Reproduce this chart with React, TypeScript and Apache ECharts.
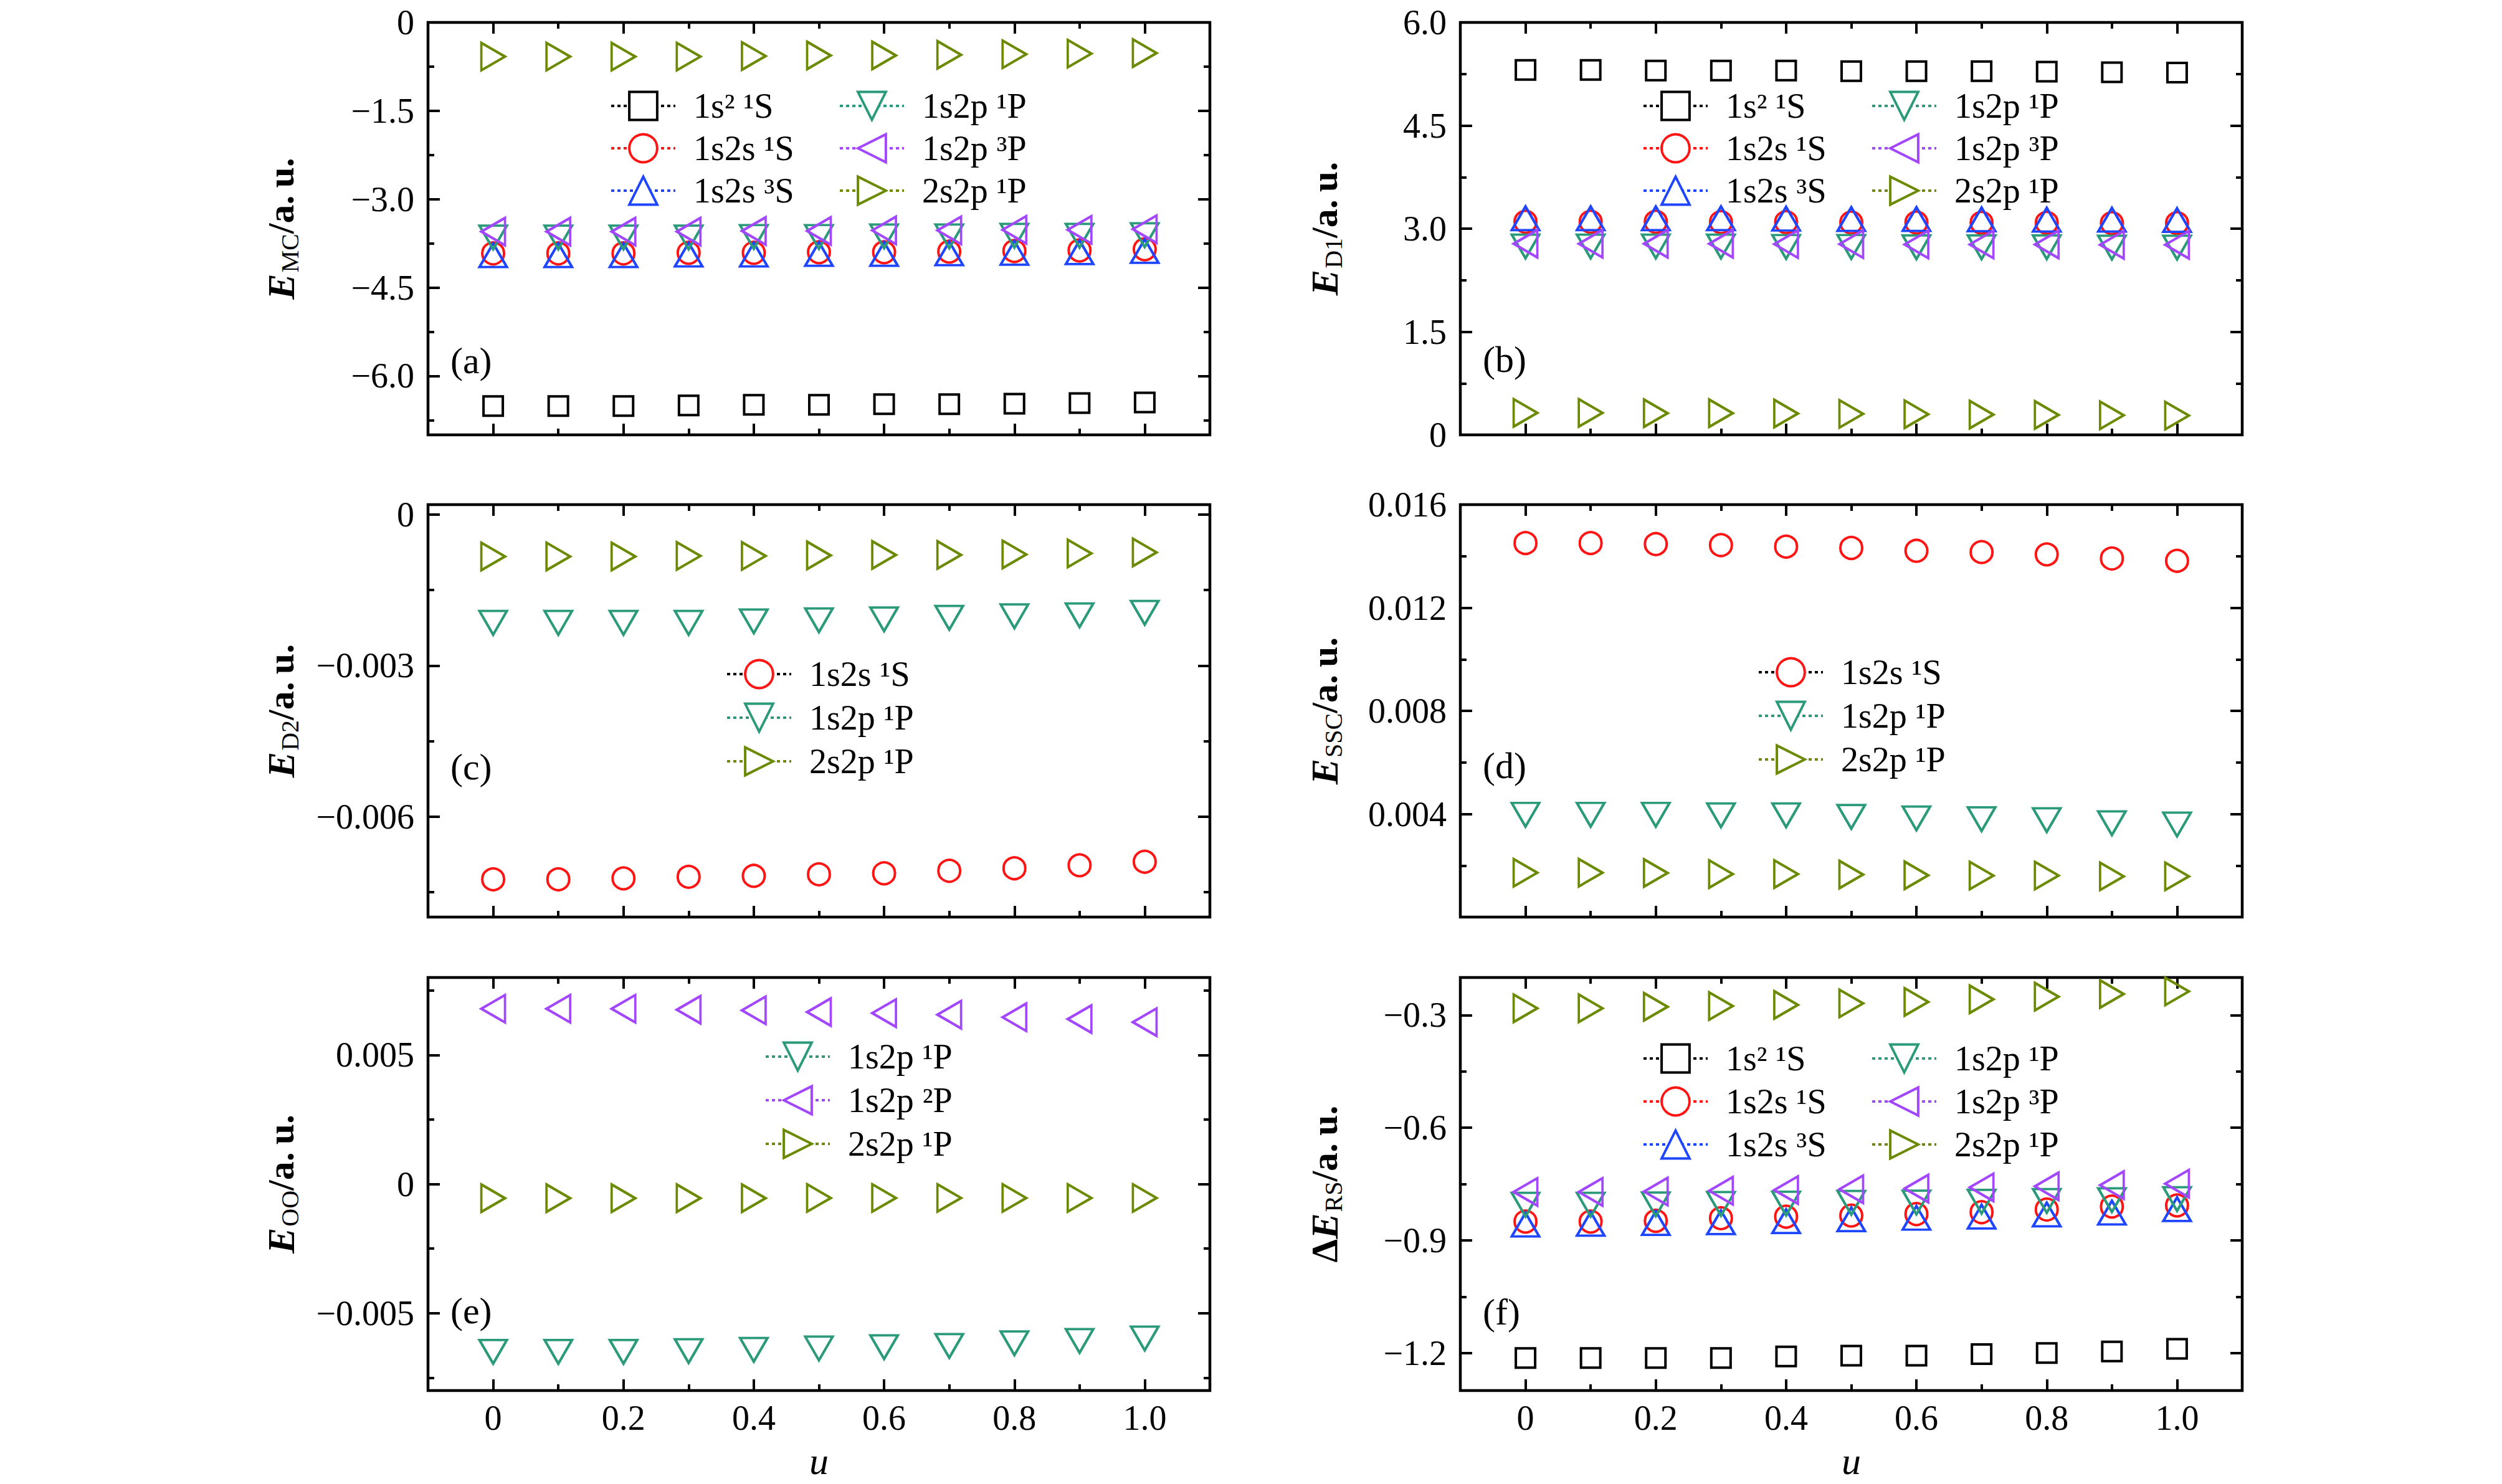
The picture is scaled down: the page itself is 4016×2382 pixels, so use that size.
import React, { useEffect, useRef } from 'react';
import * as echarts from 'echarts';

const FONT = '"Liberation Serif", "Times New Roman", serif';

// u values (x axis)
const U = [0, 0.1, 0.2, 0.3, 0.4, 0.5, 0.6, 0.7, 0.8, 0.9, 1.0];
const X_MAJOR = [0, 0.2, 0.4, 0.6, 0.8, 1.0];
const X_MAJOR_LABELS = ['0', '0.2', '0.4', '0.6', '0.8', '1.0'];
const X_MINOR = [0.1, 0.3, 0.5, 0.7, 0.9];

// state names
const G = '1s² ¹S';
const S1 = '1s2s ¹S';
const S3 = '1s2s ³S';
const P1 = '1s2p ¹P';
const P3 = '1s2p ³P';
const P2 = '1s2p ²P';
const DP = '2s2p ¹P';

// (a) E_MC
const mc_1s2_1S = [-6.51, -6.51, -6.51, -6.5, -6.49, -6.49, -6.48, -6.48, -6.47, -6.46, -6.45];
const mc_1s2s_1S = [-3.92, -3.92, -3.92, -3.91, -3.91, -3.9, -3.9, -3.89, -3.88, -3.87, -3.85];
const mc_1s2s_3S = [-3.95, -3.95, -3.95, -3.94, -3.94, -3.93, -3.93, -3.92, -3.91, -3.9, -3.88];
const mc_1s2p_1P = [-3.65, -3.65, -3.65, -3.65, -3.64, -3.64, -3.63, -3.63, -3.62, -3.62, -3.61];
const mc_1s2p_3P = [-3.55, -3.55, -3.55, -3.55, -3.54, -3.54, -3.53, -3.53, -3.52, -3.52, -3.51];
const mc_2s2p_1P = [-0.58, -0.58, -0.58, -0.58, -0.57, -0.56, -0.56, -0.55, -0.54, -0.53, -0.52];

// (b) E_D1
const d1_1s2_1S = [5.31, 5.31, 5.3, 5.3, 5.3, 5.29, 5.29, 5.29, 5.285, 5.275, 5.27];
const d1_1s2s_1S = [3.1, 3.1, 3.1, 3.095, 3.095, 3.09, 3.09, 3.085, 3.085, 3.08, 3.08];
const d1_1s2s_3S = [3.15, 3.15, 3.15, 3.15, 3.145, 3.14, 3.14, 3.135, 3.13, 3.13, 3.125];
const d1_1s2p_1P = [2.74, 2.74, 2.74, 2.74, 2.735, 2.735, 2.73, 2.73, 2.73, 2.725, 2.725];
const d1_1s2p_3P = [2.78, 2.78, 2.78, 2.78, 2.775, 2.775, 2.77, 2.77, 2.77, 2.765, 2.765];
const d1_2s2p_1P = [0.32, 0.32, 0.315, 0.315, 0.31, 0.305, 0.3, 0.295, 0.29, 0.285, 0.28];

// (c) E_D2
const d2_1s2s_1S = [-0.00725, -0.00725, -0.00723, -0.0072, -0.00718, -0.00715, -0.00713, -0.00708, -0.00703, -0.00697, -0.0069];
const d2_1s2p_1P = [-0.00215, -0.00215, -0.00215, -0.00215, -0.00212, -0.0021, -0.00208, -0.00205, -0.00202, -0.002, -0.00195];
const d2_2s2p_1P = [-0.00083, -0.00083, -0.00083, -0.00082, -0.00082, -0.00081, -0.0008, -0.0008, -0.00079, -0.00077, -0.00075];

// (d) E_SSC
const ssc_1s2s_1S = [0.01451, 0.01451, 0.01447, 0.01443, 0.01437, 0.01432, 0.01421, 0.01416, 0.01407, 0.01391, 0.01382];
const ssc_1s2p_1P = [0.00397, 0.00397, 0.00397, 0.00395, 0.00395, 0.00389, 0.00383, 0.0038, 0.00376, 0.00364, 0.00359];
const ssc_2s2p_1P = [0.00172, 0.00172, 0.00171, 0.00167, 0.00167, 0.00165, 0.00162, 0.00161, 0.00161, 0.00158, 0.00158];

// (e) E_OO
const oo_1s2p_1P = [-0.0065, -0.0065, -0.0065, -0.00647, -0.00642, -0.00637, -0.00632, -0.00627, -0.00617, -0.00608, -0.00598];
const oo_1s2p_2P = [0.00679, 0.00679, 0.00679, 0.00675, 0.00673, 0.00666, 0.00662, 0.00656, 0.00646, 0.00639, 0.00627];
const oo_2s2p_1P = [-0.00055, -0.00055, -0.00055, -0.00055, -0.00055, -0.00054, -0.00054, -0.00054, -0.00054, -0.00054, -0.00054];

// (f) ΔE_RS
const rs_1s2_1S = [-1.2135, -1.2135, -1.2135, -1.2135, -1.209, -1.207, -1.207, -1.203, -1.2, -1.196, -1.189];
const rs_1s2s_1S = [-0.85, -0.85, -0.848, -0.841, -0.837, -0.834, -0.83, -0.825, -0.818, -0.81, -0.807];
const rs_1s2s_3S = [-0.858, -0.856, -0.854, -0.852, -0.849, -0.844, -0.84, -0.837, -0.831, -0.826, -0.817];
const rs_1s2p_1P = [-0.805, -0.805, -0.804, -0.803, -0.802, -0.8, -0.799, -0.797, -0.795, -0.793, -0.79];
const rs_1s2p_3P = [-0.771, -0.771, -0.77, -0.768, -0.766, -0.764, -0.762, -0.759, -0.756, -0.753, -0.749];
const rs_2s2p_1P = [-0.282, -0.282, -0.278, -0.276, -0.273, -0.269, -0.265, -0.258, -0.251, -0.244, -0.237];

// y tick values
const A_MAJOR = [0, -1.5, -3, -4.5, -6];
const A_MINOR = [-0.75, -2.25, -3.75, -5.25, -6.75];
const B_MAJOR = [0, 1.5, 3, 4.5, 6];
const B_MINOR = [0.75, 2.25, 3.75, 5.25];
const C_MAJOR = [0, -0.003, -0.006];
const C_MINOR = [-0.0015, -0.0045, -0.0075];
const D_MAJOR = [0.004, 0.008, 0.012, 0.016];
const D_MINOR = [0.002, 0.006, 0.01, 0.014];
const E_MAJOR = [0.005, 0, -0.005];
const E_MINOR = [0.0075, 0.0025, -0.0025, -0.0075];
const F_MAJOR = [-0.3, -0.6, -0.9, -1.2];
const F_MINOR = [-0.45, -0.75, -1.05];

const BLACK = '#000000';
const RED = '#ff1414';
const BLUE = '#1f46ff';
const TEAL = '#2b9a7b';
const PURPLE = '#a347ff';
const OLIVE = '#6b8a00';

const UP = 'path://M5,0L10,8.66L0,8.66Z';
const DOWN = 'path://M0,0L10,0L5,8.66Z';
const LEFT = 'path://M0,5L8.66,0L8.66,10Z';
const RIGHT = 'path://M0,0L8.66,5L0,10Z';

const STYLE: Record<string, { symbol: string; size: any; color: string }> = {
  [G]: { symbol: 'rect', size: 31, color: BLACK },
  [S1]: { symbol: 'circle', size: 35, color: RED },
  [S3]: { symbol: UP, size: [44, 38], color: BLUE },
  [P1]: { symbol: DOWN, size: [44, 38], color: TEAL },
  [P3]: { symbol: LEFT, size: [38, 44], color: PURPLE },
  [P2]: { symbol: LEFT, size: [38, 44], color: PURPLE },
  [DP]: { symbol: RIGHT, size: [38, 44], color: OLIVE },
};

const GRID_LEFT = [687, 2344];
const GRID_TOP = [36, 810, 1569];
const GRID_H = [662, 662, 663];
const GRID_W = 1255;

function fmt(v: number, dec: number) {
  if (Math.abs(v) < 1e-12) return '0';
  return (v < 0 ? '\u2212' : '') + Math.abs(v).toFixed(dec);
}

const RICH = {
  e: { fontFamily: FONT, fontSize: 62, fontStyle: 'italic', fontWeight: 'bold', color: '#000' },
  s: { fontFamily: FONT, fontSize: 40, color: '#000', padding: [28, 0, 0, 2] },
  n: { fontFamily: FONT, fontSize: 60, fontWeight: 'bold', color: '#000' },
};
const UNIT = '{n|/a.\u2009u.}';

type Panel = {
  label: string; col: number; row: number; yMin: number; yMax: number;
  major: number[]; minor: number[]; dec: number; title: string;
  series: [string, number[]][];
  legends: { dx: number; dy: number; gap: number; items: string[]; lineColors?: Record<string, string> }[];
  labelDy: number; xLabels: boolean;
};

const PANELS: Panel[] = [
  {
    label: '(a)', col: 0, row: 0, yMin: -7, yMax: 0, major: A_MAJOR, minor: A_MINOR, dec: 1,
    title: '{e|E}{s|MC}' + UNIT,
    series: [[G, mc_1s2_1S], [S1, mc_1s2s_1S], [S3, mc_1s2s_3S], [P1, mc_1s2p_1P], [P3, mc_1s2p_3P], [DP, mc_2s2p_1P]],
    legends: [{ dx: 292, dy: 106, gap: 12, items: [G, S1, S3] }, { dx: 659, dy: 106, gap: 12, items: [P1, P3, DP] }],
    labelDy: 543, xLabels: false,
  },
  {
    label: '(b)', col: 1, row: 0, yMin: 0, yMax: 6, major: B_MAJOR, minor: B_MINOR, dec: 1,
    title: '{e|E}{s|D1}' + UNIT,
    series: [[G, d1_1s2_1S], [S1, d1_1s2s_1S], [S3, d1_1s2s_3S], [P1, d1_1s2p_1P], [P3, d1_1s2p_3P], [DP, d1_2s2p_1P]],
    legends: [{ dx: 292, dy: 106, gap: 12, items: [G, S1, S3] }, { dx: 659, dy: 106, gap: 12, items: [P1, P3, DP] }],
    labelDy: 541, xLabels: false,
  },
  {
    label: '(c)', col: 0, row: 1, yMin: -0.008, yMax: 0.0002, major: C_MAJOR, minor: C_MINOR, dec: 3,
    title: '{e|E}{s|D2}' + UNIT,
    series: [[S1, d2_1s2s_1S], [P1, d2_1s2p_1P], [DP, d2_2s2p_1P]],
    legends: [{ dx: 478, dy: 244, gap: 14, items: [S1, P1, DP], lineColors: { [S1]: BLACK } }],
    labelDy: 421, xLabels: false,
  },
  {
    label: '(d)', col: 1, row: 1, yMin: 0, yMax: 0.016, major: D_MAJOR, minor: D_MINOR, dec: 3,
    title: '{e|E}{s|SSC}' + UNIT,
    series: [[S1, ssc_1s2s_1S], [P1, ssc_1s2p_1P], [DP, ssc_2s2p_1P]],
    legends: [{ dx: 477, dy: 241, gap: 14, items: [S1, P1, DP], lineColors: { [S1]: BLACK } }],
    labelDy: 419, xLabels: false,
  },
  {
    label: '(e)', col: 0, row: 2, yMin: -0.008, yMax: 0.008, major: E_MAJOR, minor: E_MINOR, dec: 3,
    title: '{e|E}{s|OO}' + UNIT,
    series: [[P1, oo_1s2p_1P], [P2, oo_1s2p_2P], [DP, oo_2s2p_1P]],
    legends: [{ dx: 540, dy: 99, gap: 14, items: [P1, P2, DP] }],
    labelDy: 535, xLabels: true,
  },
  {
    label: '(f)', col: 1, row: 2, yMin: -1.3, yMax: -0.2, major: F_MAJOR, minor: F_MINOR, dec: 1,
    title: '{n|\u0394}{e|E}{s|RS}' + UNIT,
    series: [[G, rs_1s2_1S], [S1, rs_1s2s_1S], [S3, rs_1s2s_3S], [P1, rs_1s2p_1P], [P3, rs_1s2p_3P], [DP, rs_2s2p_1P]],
    legends: [{ dx: 292, dy: 102, gap: 13, items: [G, S1, S3] }, { dx: 659, dy: 102, gap: 13, items: [P1, P3, DP] }],
    labelDy: 537, xLabels: true,
  },
];

function tickAxis(base: any, position: string, values: number[], len: number) {
  return {
    ...base,
    position,
    axisTick: { show: true, inside: true, length: len, lineStyle: { color: '#000', width: 4 }, customValues: values },
    axisLabel: { show: false },
  };
}

function buildOption() {
  const grid: any[] = [];
  const xAxis: any[] = [];
  const yAxis: any[] = [];
  const series: any[] = [];
  const legend: any[] = [];
  const graphic: any[] = [];

  PANELS.forEach((p, gi) => {
    const left = GRID_LEFT[p.col];
    const top = GRID_TOP[p.row];
    grid.push({
      left, top, width: GRID_W, height: GRID_H[p.row],
      show: true, borderColor: '#000', borderWidth: 4.5, backgroundColor: 'transparent',
    });
    const xb = {
      type: 'value', gridIndex: gi, min: -0.1, max: 1.1,
      axisLine: { show: false, onZero: false }, splitLine: { show: false }, silent: true,
    };
    const xMajorBottom: any = tickAxis(xb, 'bottom', X_MAJOR, 18);
    if (p.xLabels) {
      xMajorBottom.axisLabel = {
        show: true, customValues: X_MAJOR, margin: 16, fontFamily: FONT, fontSize: 56, color: '#000',
        formatter: (v: number) => {
          const i = X_MAJOR.findIndex((m) => Math.abs(m - v) < 1e-9);
          return i >= 0 ? X_MAJOR_LABELS[i] : '';
        },
      };
      xMajorBottom.name = 'u';
      xMajorBottom.nameLocation = 'middle';
      xMajorBottom.nameGap = 82;
      xMajorBottom.nameTextStyle = { fontFamily: FONT, fontSize: 62, fontStyle: 'italic', color: '#000' };
    }
    xAxis.push(xMajorBottom);
    xAxis.push(tickAxis(xb, 'bottom', X_MINOR, 10));
    xAxis.push(tickAxis(xb, 'top', X_MAJOR, 18));
    xAxis.push(tickAxis(xb, 'top', X_MINOR, 10));

    const yb = {
      type: 'value', gridIndex: gi, min: p.yMin, max: p.yMax,
      axisLine: { show: false, onZero: false }, splitLine: { show: false }, silent: true,
    };
    const yMajorLeft: any = tickAxis(yb, 'left', p.major, 19);
    yMajorLeft.axisLabel = {
      show: true, customValues: p.major, margin: 22, fontFamily: FONT, fontSize: 56, color: '#000',
      formatter: (v: number) => fmt(v, p.dec),
    };
    yMajorLeft.name = p.title;
    yMajorLeft.nameLocation = 'middle';
    yMajorLeft.nameRotate = 90;
    yMajorLeft.nameGap = p.col === 0 ? 202 : 184;
    yMajorLeft.nameTextStyle = { rich: RICH };
    yAxis.push(yMajorLeft);
    yAxis.push(tickAxis(yb, 'left', p.minor, 10));
    yAxis.push(tickAxis(yb, 'right', p.major, 19));
    yAxis.push(tickAxis(yb, 'right', p.minor, 10));

    p.series.forEach(([name, vals]) => {
      const st = STYLE[name];
      series.push({
        type: 'line', name, xAxisIndex: gi * 4, yAxisIndex: gi * 4,
        data: U.map((u, i) => [u, vals[i]]),
        symbol: st.symbol, symbolSize: st.size, showSymbol: true, showAllSymbol: true,
        lineStyle: { width: 0, opacity: 0 },
        itemStyle: { color: 'rgba(0,0,0,0)', borderColor: st.color, borderWidth: 4 },
        emphasis: { disabled: true }, silent: true, animation: false,
      });
    });

    p.legends.forEach((lg) => {
      legend.push({
        orient: 'vertical', left: left + lg.dx, top: top + lg.dy, padding: 0,
        itemWidth: 103, itemHeight: 56, itemGap: lg.gap, selectedMode: false,
        textStyle: { fontFamily: FONT, fontSize: 56, color: '#000', padding: [0, 0, 0, 24] },
        data: lg.items.map((name) => {
          const st = STYLE[name];
          const lc = (lg.lineColors && lg.lineColors[name]) || st.color;
          return {
            name,
            itemStyle: { color: '#ffffff', borderColor: st.color, borderWidth: 4 },
            lineStyle: { color: lc, width: 4, type: [5, 5], opacity: 1 },
          };
        }),
      });
    });

    graphic.push({
      type: 'text', x: left + 36, y: top + p.labelDy, silent: true,
      style: { text: p.label, fontFamily: FONT, fontSize: 60, fill: '#000', verticalAlign: 'middle', align: 'left' },
    });
  });

  return { animation: false, backgroundColor: '#ffffff', grid, xAxis, yAxis, series, legend, graphic };
}

export default function App() {
  const ref = useRef<HTMLDivElement>(null);
  useEffect(() => {
    if (!ref.current) return;
    const chart = echarts.init(ref.current, null, { renderer: 'svg' });
    chart.setOption(buildOption() as any);
    return () => chart.dispose();
  }, []);
  return <div ref={ref} style={{ position: 'fixed', left: 0, top: 0, width: 4016, height: 2382, background: '#fff' }} />;
}
